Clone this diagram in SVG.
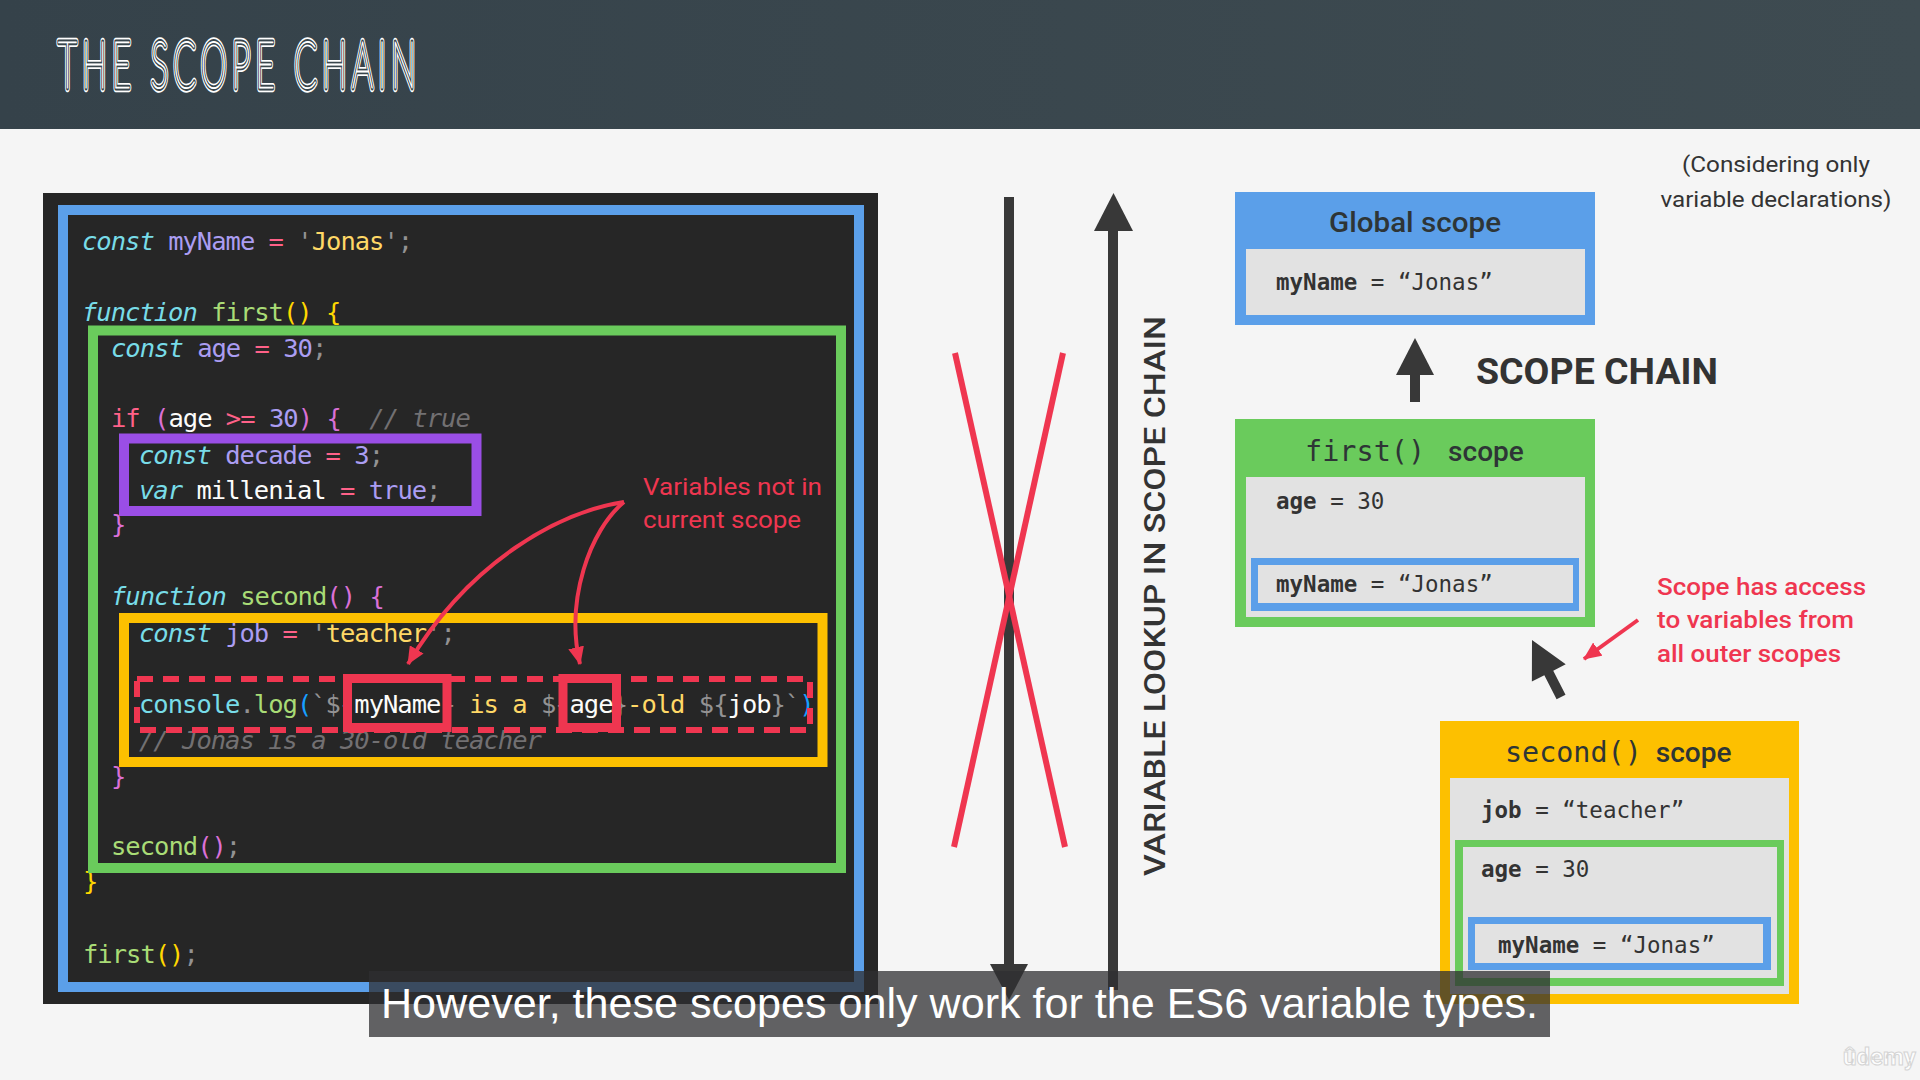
<svg xmlns="http://www.w3.org/2000/svg" width="1920" height="1080" viewBox="0 0 1920 1080">
  <defs>
    <linearGradient id="hdr" x1="0" y1="0" x2="1" y2="0">
      <stop offset="0" stop-color="#35424a"/>
      <stop offset="1" stop-color="#3e4b51"/>
    </linearGradient>
    <marker id="redHead" markerUnits="userSpaceOnUse" markerWidth="20" markerHeight="16" refX="17" refY="8" orient="auto">
      <path d="M0,0 L18,8 L0,16 Z" fill="#ef3650"/>
    </marker>
    <style>
      .code { font-family: "DejaVu Sans Mono", "Liberation Mono", monospace; font-size: 25.5px; letter-spacing: -1px; white-space: pre; }
      .k { fill: #78dce8; font-style: italic; }
      .cy { fill: #78dce8; }
      .v { fill: #ab9df2; }
      .o { fill: #ff6188; }
      .s { fill: #ffd866; }
      .f { fill: #a9dc76; }
      .p { fill: #939293; }
      .w { fill: #fcfcfa; }
      .c { fill: #727072; font-style: italic; }
      .b1 { fill: #ffd700; }
      .b2 { fill: #da70d6; }
      .b3 { fill: #179fff; }
      .frame { fill: none; stroke-width: 10; }
      .mono { font-family: "DejaVu Sans Mono", "Liberation Mono", monospace; font-size: 22.5px; fill: #333; white-space: pre; }
      .mono .bd { font-weight: bold; }
      .ttl { font-family: Roboto, "Liberation Sans", sans-serif; font-size: 28px; font-weight: 500; fill: #2e3536; }
      .sans { font-family: Roboto, "Liberation Sans", sans-serif; fill: #333; }
      .red { font-family: Roboto, "Liberation Sans", sans-serif; fill: #ef3650; font-size: 24px; }
      .gray { fill: #e2e2e2; }
      .dark { fill: #383838; }
      .redline { fill: none; stroke: #ef3650; stroke-width: 4; }
      .head { font-family: Lato, Inter, "Liberation Sans", sans-serif; font-size: 66px; font-weight: 100; }
    </style>
  </defs>

  <!-- page -->
  <rect width="1920" height="1080" fill="#f5f5f5"/>

  <!-- header band -->
  <rect width="1920" height="129" fill="url(#hdr)"/>
  <!-- inline-style heading: outer ring, dark gap, white core -->
  <g id="title" class="head" transform="translate(58,88) scale(0.5,1)">
    <text x="0" y="0" textLength="716" lengthAdjust="spacing" fill="none" stroke="#fff" stroke-width="6.6" vector-effect="non-scaling-stroke" stroke-linejoin="round">THE SCOPE CHAIN</text>
    <text x="0" y="0" textLength="716" lengthAdjust="spacing" fill="none" stroke="#39464c" stroke-width="3.8" vector-effect="non-scaling-stroke" stroke-linejoin="round">THE SCOPE CHAIN</text>
    <text x="0" y="0" textLength="716" lengthAdjust="spacing" fill="#fff" stroke="#fff" stroke-width="0.9" vector-effect="non-scaling-stroke">THE SCOPE CHAIN</text>
  </g>

  <!-- code editor panel -->
  <g id="code-panel">
    <rect x="43" y="193" width="835" height="811" fill="#262626"/>

    <g class="code" xml:space="preserve">
      <text x="82" y="250"><tspan class="k">const</tspan> <tspan class="v">myName</tspan> <tspan class="o">=</tspan> <tspan class="p">'</tspan><tspan class="s">Jonas</tspan><tspan class="p">';</tspan></text>
      <text x="82" y="321"><tspan class="k">function</tspan> <tspan class="f">first</tspan><tspan class="b1">()</tspan> <tspan class="b1">{</tspan></text>
      <text x="111" y="357"><tspan class="k">const</tspan> <tspan class="v">age</tspan> <tspan class="o">=</tspan> <tspan class="v">30</tspan><tspan class="p">;</tspan></text>
      <text x="111" y="427"><tspan class="o">if</tspan> <tspan class="b2">(</tspan><tspan class="w">age</tspan> <tspan class="o">&gt;=</tspan> <tspan class="v">30</tspan><tspan class="b2">)</tspan> <tspan class="b2">{</tspan><tspan class="c" x="369.3">// true</tspan></text>
      <text x="139" y="464"><tspan class="k">const</tspan> <tspan class="v">decade</tspan> <tspan class="o">=</tspan> <tspan class="v">3</tspan><tspan class="p">;</tspan></text>
      <text x="139" y="499"><tspan class="k">var</tspan> <tspan class="w">millenial</tspan> <tspan class="o">=</tspan> <tspan class="v">true</tspan><tspan class="p">;</tspan></text>
      <text x="111" y="533"><tspan class="b2">}</tspan></text>
      <text x="111" y="605"><tspan class="k">function</tspan> <tspan class="f">second</tspan><tspan class="b2">()</tspan> <tspan class="b2">{</tspan></text>
      <text x="139" y="642"><tspan class="k">const</tspan> <tspan class="v">job</tspan> <tspan class="o">=</tspan> <tspan class="p">'</tspan><tspan class="s">teacher</tspan><tspan class="p">';</tspan></text>
      <text x="139" y="713"><tspan class="cy">console</tspan><tspan class="p">.</tspan><tspan class="f">log</tspan><tspan class="b3">(</tspan><tspan class="p">`${</tspan><tspan class="w">myName</tspan><tspan class="p">}</tspan><tspan class="s"> is a </tspan><tspan class="p">${</tspan><tspan class="w">age</tspan><tspan class="p">}</tspan><tspan class="s">-old </tspan><tspan class="p">${</tspan><tspan class="w">job</tspan><tspan class="p">}`</tspan><tspan class="b3">)</tspan><tspan class="p">;</tspan></text>
      <text x="139" y="749" class="c">// Jonas is a 30-old teacher</text>
      <text x="111" y="785"><tspan class="b2">}</tspan></text>
      <text x="111" y="855"><tspan class="f">second</tspan><tspan class="b2">()</tspan><tspan class="p">;</tspan></text>
      <text x="83" y="890"><tspan class="b1">}</tspan></text>
      <text x="83" y="963"><tspan class="f">first</tspan><tspan class="b1">()</tspan><tspan class="p">;</tspan></text>
    </g>

    <!-- scope frames around the code -->
    <rect id="frame-global" class="frame" x="63" y="210" width="796" height="777" stroke="#5b9fe9"/>
    <rect id="frame-first" class="frame" x="93" y="330.5" width="748" height="537.5" stroke="#6acb5c"/>
    <rect id="frame-if" class="frame" x="124" y="438.5" width="352.5" height="72.5" stroke="#9a4ee6"/>
    <rect id="frame-second" class="frame" x="124" y="618" width="698.5" height="144" stroke="#fdc000"/>

    <!-- highlighted lookup line -->
    <rect x="137" y="679" width="673" height="51" fill="none" stroke="#ef3650" stroke-width="6" stroke-dasharray="16 10"/>
    <g id="lookup-myName">
      <rect x="347.5" y="678.5" width="99.5" height="49" fill="#262626" stroke="#ef3650" stroke-width="9"/>
      <text class="code w" x="354.3" y="713">myName</text>
    </g>
    <g id="lookup-age">
      <rect x="563" y="678.5" width="53.5" height="49" fill="#262626" stroke="#ef3650" stroke-width="9"/>
      <text class="code w" x="569.5" y="713">age</text>
    </g>
  </g>

  <!-- note on variables outside the current scope -->
  <g id="note-outside">
    <text class="red" x="643" y="495" textLength="179" lengthAdjust="spacingAndGlyphs">Variables not in</text>
    <text class="red" x="643" y="528" textLength="158" lengthAdjust="spacingAndGlyphs">current scope</text>
  </g>

  <!-- connectors -->
  <g id="connectors">
    <path class="redline" d="M624,502 C560,512 470,560 408,664" marker-end="url(#redHead)"/>
    <path class="redline" d="M624,502 C590,530 565,600 580,664" marker-end="url(#redHead)"/>

    <!-- downward lookup (not possible) -->
    <rect class="dark" x="1004" y="197" width="10" height="770"/>
    <polygon class="dark" points="990,964 1028,964 1009,1000"/>
    <line x1="955" y1="353" x2="1065" y2="847" stroke="#ef3650" stroke-width="6"/>
    <line x1="1063" y1="353" x2="954" y2="847" stroke="#ef3650" stroke-width="6"/>

    <!-- upward lookup -->
    <rect class="dark" x="1108" y="228" width="10" height="762"/>
    <polygon class="dark" points="1094,231 1133,231 1113.5,193"/>

    <!-- first -> global -->
    <rect class="dark" x="1410" y="372" width="10" height="30"/>
    <polygon class="dark" points="1396,375 1434,375 1415,338"/>

    <!-- second -> first -->
    <polygon class="dark" transform="translate(1532,640) rotate(-27)" points="0,0 19,37 5,37 5,64 -5,64 -5,37 -19,37"/>

    <!-- access note pointer -->
    <path class="redline" d="M1638,620 L1584,659" marker-end="url(#redHead)"/>
  </g>

  <text id="lookup-label" class="sans" font-size="30" font-weight="500" text-anchor="middle" textLength="560" lengthAdjust="spacingAndGlyphs" transform="translate(1165,596) rotate(-90)">VARIABLE LOOKUP IN SCOPE CHAIN</text>

  <g id="note-considering" class="sans" font-size="22" text-anchor="middle">
    <text x="1776" y="171.5" textLength="188" lengthAdjust="spacingAndGlyphs">(Considering only</text>
    <text x="1776" y="206.5" textLength="231" lengthAdjust="spacingAndGlyphs">variable declarations)</text>
  </g>

  <text id="chain-label" class="sans" x="1476" y="384" font-size="36" font-weight="700" textLength="242" lengthAdjust="spacingAndGlyphs">SCOPE CHAIN</text>

  <!-- global scope -->
  <g id="scope-global">
    <rect x="1235" y="192" width="360" height="133" fill="#5b9fe9"/>
    <text class="ttl" x="1415" y="232" text-anchor="middle" textLength="172" lengthAdjust="spacingAndGlyphs">Global scope</text>
    <rect class="gray" x="1246" y="249" width="339" height="66"/>
    <text class="mono" x="1276" y="290" xml:space="preserve"><tspan class="bd">myName</tspan> = “Jonas”</text>
  </g>

  <!-- first() scope -->
  <g id="scope-first">
    <rect x="1235" y="419" width="360" height="208" fill="#6acb5c"/>
    <text x="1305" y="461"><tspan font-family="'DejaVu Sans Mono', monospace" font-size="28.5" fill="#2e3536">first()</tspan><tspan class="ttl" font-size="29" dx="23">scope</tspan></text>
    <rect class="gray" x="1246" y="477" width="339" height="140"/>
    <text class="mono" x="1276" y="509" xml:space="preserve"><tspan class="bd">age</tspan> = 30</text>
    <rect x="1251" y="558" width="328" height="53" fill="#5b9fe9"/>
    <rect class="gray" x="1258" y="565" width="315" height="38"/>
    <text class="mono" x="1276" y="592" xml:space="preserve"><tspan class="bd">myName</tspan> = “Jonas”</text>
  </g>

  <!-- access note -->
  <g id="note-access" font-weight="500">
    <text class="red" x="1657" y="595" textLength="209" lengthAdjust="spacingAndGlyphs">Scope has access</text>
    <text class="red" x="1657" y="628" textLength="197" lengthAdjust="spacingAndGlyphs">to variables from</text>
    <text class="red" x="1657" y="662" textLength="184" lengthAdjust="spacingAndGlyphs">all outer scopes</text>
  </g>

  <!-- second() scope -->
  <g id="scope-second">
    <rect x="1440" y="721" width="359" height="283" fill="#fdc000"/>
    <text x="1505" y="762"><tspan font-family="'DejaVu Sans Mono', monospace" font-size="28.4" fill="#2e3536">second()</tspan><tspan class="ttl" font-size="29" dx="14">scope</tspan></text>
    <rect class="gray" x="1450" y="778" width="339" height="216"/>
    <text class="mono" x="1481" y="818" xml:space="preserve"><tspan class="bd">job</tspan> = “teacher”</text>
    <rect x="1455" y="840" width="329" height="146" fill="#6acb5c"/>
    <rect class="gray" x="1463" y="847" width="314" height="131"/>
    <text class="mono" x="1481" y="877" xml:space="preserve"><tspan class="bd">age</tspan> = 30</text>
    <rect x="1468" y="917" width="303" height="53" fill="#5b9fe9"/>
    <rect class="gray" x="1475" y="924" width="288" height="39"/>
    <text class="mono" x="1498" y="953" xml:space="preserve"><tspan class="bd">myName</tspan> = “Jonas”</text>
  </g>

  <!-- caption -->
  <g id="caption">
    <rect x="369" y="971" width="1181" height="66" fill="rgb(47,47,49)" fill-opacity="0.75"/>
    <text x="381" y="1018" font-family="'Liberation Sans', Arial, sans-serif" font-size="42" fill="#fff" textLength="1157" lengthAdjust="spacingAndGlyphs">However, these scopes only work for the ES6 variable types.</text>
  </g>

  <text id="watermark" x="1843" y="1065" font-family="Roboto, 'Liberation Sans', sans-serif" font-size="24" font-weight="700" fill="#fff" stroke="#cfcfcf" stroke-width="1" opacity="0.85">ûdemy</text>
</svg>
